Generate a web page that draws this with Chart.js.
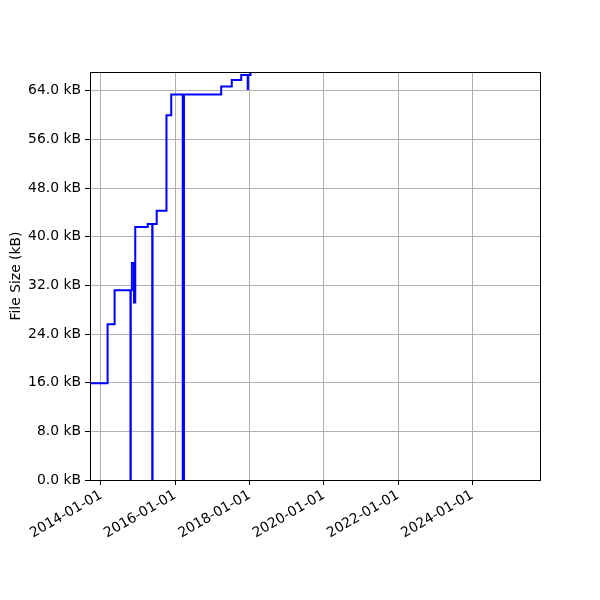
<!DOCTYPE html>
<html>
<head>
<meta charset="utf-8">
<script src="https://cdn.jsdelivr.net/npm/chart.js@4/dist/chart.umd.min.js"></script>
<style>
  html, body { margin: 0; padding: 0; background: #fff; }
  canvas { display: block; }
</style>
</head>
<body>
<canvas id="chart" width="600" height="600"></canvas>
<script>
// commit dates and file size (kB)
const commitDates = [
    '2013-09-15', '2014-03-07', '2014-05-15', '2014-10-18', '2014-10-21',
    '2014-11-01', '2014-11-22', '2014-12-04', '2015-04-06', '2015-05-20',
    '2015-05-23', '2015-07-03', '2015-10-07', '2015-11-23', '2016-03-15',
    '2016-03-17', '2016-03-25', '2016-03-27', '2017-03-28', '2017-07-10',
    '2017-10-11', '2017-12-14', '2017-12-16', '2018-01-10'
];
const fileSizes = [
    15.9, 25.6, 31.2, 0, 31.2,
    35.7, 29.2, 41.6, 42.1, 0,
    42.1, 44.3, 60.0, 63.4, 0,
    63.4, 0, 63.4, 64.7, 65.8,
    66.6, 64.3, 66.6, 68.0
];
const yearTicks = [2014, 2016, 2018, 2020, 2022, 2024];
const xRange = ['2013-09-15', '2025-10-27'];
const yMax = 67.1;

const FONT = "'DejaVu Sans', sans-serif";
const toMs = d => Date.parse(d + 'T00:00:00Z');

const framePlugin = {
    id: 'frame',
    afterDraw(chart) {
        const {ctx, chartArea: a} = chart;
        ctx.save();
        ctx.strokeStyle = '#000';
        ctx.lineWidth = 1;
        ctx.strokeRect(Math.round(a.left) + 0.5, Math.round(a.top) + 0.5,
            Math.round(a.right - a.left), Math.round(a.bottom - a.top));
        ctx.restore();
    }
};

new Chart(document.getElementById('chart'), {
    type: 'line',
    data: {
        datasets: [{
            label: 'File Size',
            data: commitDates.map((d, i) => ({x: toMs(d), y: fileSizes[i]})),
            borderColor: '#0000ff',
            borderWidth: 2,
            pointRadius: 0,
            stepped: 'before',
            tension: 0,
            clip: 0
        }]
    },
    options: {
        responsive: false,
        animation: false,
        layout: {
            padding: {top: 72, right: 60, left: 0, bottom: 0}
        },
        plugins: {
            legend: {display: false},
            tooltip: {enabled: false}
        },
        scales: {
            x: {
                type: 'linear',
                min: toMs(xRange[0]),
                max: toMs(xRange[1]),
                afterBuildTicks: scale => {
                    scale.ticks = yearTicks.map(y => ({value: Date.UTC(y, 0, 1)}));
                },
                afterFit: scale => { scale.height = 120; },
                grid: {color: '#b0b0b0', tickColor: '#000', tickLength: 5, lineWidth: 1},
                border: {color: '#000', width: 1},
                ticks: {
                    color: '#000',
                    font: {family: FONT, size: 13.9},
                    minRotation: 30,
                    maxRotation: 30,
                    padding: 2,
                    autoSkip: false,
                    callback: v => new Date(v).toISOString().slice(0, 10)
                }
            },
            y: {
                min: 0,
                max: yMax,
                afterBuildTicks: scale => {
                    scale.ticks = scale.ticks.filter(t => Math.abs(t.value % 8) < 1e-6);
                },
                afterFit: scale => { scale.width = 90; },
                grid: {color: '#b0b0b0', tickColor: '#000', tickLength: 5, lineWidth: 1},
                border: {color: '#000', width: 1},
                ticks: {
                    stepSize: 8,
                    color: '#000',
                    font: {family: FONT, size: 13.9},
                    padding: 4,
                    callback: v => v.toFixed(1) + ' kB'
                },
                title: {
                    display: true,
                    text: 'File Size (kB)',
                    color: '#000',
                    font: {family: FONT, size: 13.9},
                    padding: {top: 8, bottom: 0}
                }
            }
        }
    },
    plugins: [framePlugin]
});
</script>
</body>
</html>
